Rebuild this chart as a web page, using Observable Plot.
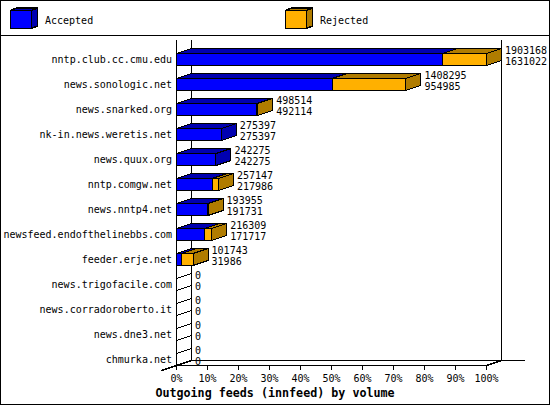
<!DOCTYPE html>
<html>
<head>
<meta charset="utf-8">
<script src="https://cdn.jsdelivr.net/npm/d3@7"></script>
<script src="https://cdn.jsdelivr.net/npm/@observablehq/plot@0.6"></script>
<style>
html,body{margin:0;padding:0;background:#fff}
#chart{position:relative;width:550px;height:405px;overflow:hidden;background:#fff}
#chart svg{position:absolute;left:0;display:block}
#frame{position:absolute;inset:0;box-sizing:border-box;border:1px solid #000;pointer-events:none}
#rule{position:absolute;left:0;right:0;top:35px;height:1px;background:#000}
#caption{position:absolute;left:0;width:550px;top:386px;text-align:center;font:bold 11.7px/14px "DejaVu Sans Mono",monospace;color:#000}
</style>
</head>
<body>
<div id="chart"><div id="rule"></div><div id="caption"></div><div id="frame"></div></div>
<script>
const hosts = ["nntp.club.cc.cmu.edu","news.sonologic.net","news.snarked.org","nk-in.news.weretis.net","news.quux.org","nntp.comgw.net","news.nntp4.net","newsfeed.endofthelinebbs.com","feeder.erje.net","news.trigofacile.com","news.corradoroberto.it","news.dne3.net","chmurka.net"];
const offered = [1903168,1408295,498514,275397,242275,257147,193955,216309,101743,0,0,0,0];
const accepted = [1631022,954985,492114,275397,242275,217986,191731,171717,31986,0,0,0,0];
const seriesNames = ["Accepted","Rejected"];
const frontColors = ["#0000ff","#ffb000"];
const darkColors = ["#0000b0","#b07c00"];
const percentTicks = [0,10,20,30,40,50,60,70,80,90,100];
const title = "Outgoing feeds (innfeed) by volume";

const MONO = '"DejaVu Sans Mono",monospace';
const maxValue = d3.max(offered);
const pct = v => v / maxValue * 100;
const DX = 15 / 3.1;   // 3D depth in percent units
const DY = 0.2;        // 3D depth in row units
const BAR_TOP = 0.52;  // front face offset inside each row

const polys = [];
let nextId = 0;
function poly(points, fill) {
  const id = nextId++;
  for (const [x, y] of points) polys.push({id, x, y, fill});
}
hosts.forEach((h, i) => {
  const a = pct(accepted[i]), o = pct(offered[i]);
  const t = i + BAR_TOP, b = i + 1;
  poly([[0,t],[a,t],[a,b],[0,b]], frontColors[0]);
  poly([[0,t],[DX,t-DY],[a+DX,t-DY],[a,t]], darkColors[0]);
  if (o > a) {
    poly([[a,t],[o,t],[o,b],[a,b]], frontColors[1]);
    poly([[a,t],[a+DX,t-DY],[o+DX,t-DY],[o,t]], darkColors[1]);
  }
  const side = o === 0 ? "none" : o > a ? darkColors[1] : darkColors[0];
  poly([[o,t],[o+DX,t-DY],[o+DX,b-DY],[o,b]], side);
});

const labels = hosts.flatMap((h, i) => [
  {i, x: pct(offered[i]) + DX, y: i + 0.40, t: String(offered[i])},
  {i, x: pct(offered[i]) + DX, y: i + 0.84, t: String(accepted[i])}
]);
const rows = hosts.map((h, i) => ({h, y: i + 0.76}));
const crisp = {shapeRendering: "crispEdges"};

const main = Plot.plot({
  width: 550, height: 370,
  marginLeft: 176, marginRight: 63, marginTop: 5, marginBottom: 40,
  style: {background: "transparent", fontFamily: MONO, fontSize: "10px", color: "#000"},
  x: {domain: [0, 100], range: [176, 486], axis: null},
  y: {domain: [0, 13], range: [5, 330], axis: null},
  color: {type: "identity"},
  marks: [
    Plot.ruleX([0], {y1: 0, y2: 13, stroke: "#000", ...crisp}),
    Plot.ruleX([DX], {y1: 0, y2: 13 - DY, stroke: "#000", ...crisp}),
    Plot.ruleX([100 + DX], {y1: 0, y2: 13 - DY, stroke: "#000", ...crisp}),
    Plot.ruleY([13], {x1: 0, x2: 100, stroke: "#000", ...crisp}),
    Plot.ruleY([13 - DY], {x1: DX, x2: 112.7, stroke: "#000", ...crisp}),
    Plot.line([[-DX, 13 + DY], [0, 13], [DX, 13 - DY]], {x: d => d[0], y: d => d[1], stroke: "#000", curve: "linear", ...crisp}),
    Plot.line([[100, 13], [100 + DX, 13 - DY]], {x: d => d[0], y: d => d[1], stroke: "#000", curve: "linear", ...crisp}),
    Plot.ruleX(percentTicks, {x: d => d, y1: 13, y2: 13.2, stroke: "#000", ...crisp}),
    Plot.text(percentTicks, {x: d => d, y: 13.52, text: d => d + "%", fontSize: 10, fill: "#000", fontFamily: MONO}),
    Plot.line(polys, {x: "x", y: "y", z: "id", fill: "fill", stroke: "#000", strokeWidth: 1, curve: "linear-closed", ...crisp}),
    Plot.text(rows, {x: 0, y: "y", text: "h", textAnchor: "end", dx: -4.5, fontSize: 10, fill: "#000", fontFamily: MONO}),
    Plot.text(labels, {x: "x", y: "y", text: "t", textAnchor: "start", dx: 3.5, fontSize: 10, fill: "#000", fontFamily: MONO})
  ]
});
main.style.top = "35px";

// Legend: a strip of its own above the chart, in pixel-like layout units
const legendX = [10, 285];
const legendPolys = [];
seriesNames.forEach((s, k) => {
  const x0 = legendX[k], x1 = x0 + 21, d = 6, top = 10, bot = 28, r = 2.5;
  const add = (pts, fill, id) => pts.forEach(([x, y]) => legendPolys.push({id, x, y, fill}));
  add([[x0,top],[x0+d,top-r],[x1+d,top-r],[x1,top]], darkColors[k], k*3);
  add([[x1,top],[x1+d,top-r],[x1+d,bot-r],[x1,bot]], darkColors[k], k*3+1);
  add([[x0,top],[x1,top],[x1,bot],[x0,bot]], frontColors[k], k*3+2);
});
const legend = Plot.plot({
  width: 550, height: 35, margin: 0,
  style: {background: "transparent", fontFamily: MONO, fontSize: "10px", color: "#000"},
  x: {domain: [0, 550], range: [0, 550], axis: null},
  y: {domain: [0, 35], range: [0, 35], axis: null},
  color: {type: "identity"},
  marks: [
    Plot.line(legendPolys, {x: "x", y: "y", z: "id", fill: "fill", stroke: "#000", curve: "linear-closed", ...crisp}),
    Plot.text(seriesNames, {x: (d, k) => legendX[k] + 34.5, y: 20.5, text: d => d, textAnchor: "start", fontSize: 10, fill: "#000", fontFamily: MONO})
  ]
});
legend.style.top = "0px";

const chart = document.getElementById("chart");
chart.insertBefore(main, chart.firstChild);
chart.insertBefore(legend, chart.firstChild);
document.getElementById("caption").textContent = title;
</script>
</body>
</html>
